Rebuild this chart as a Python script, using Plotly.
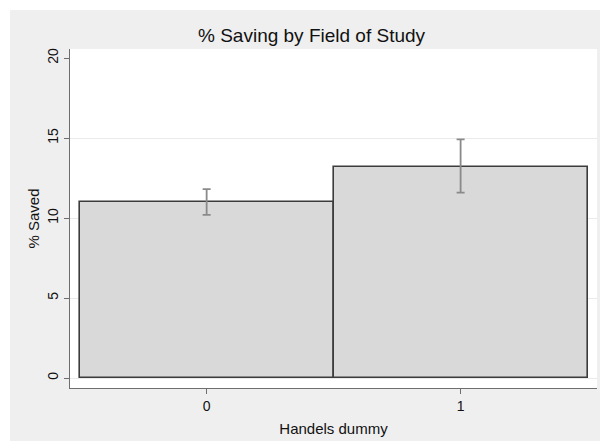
import plotly.graph_objects as go

# Mean % saved by field-of-study dummy, with confidence bounds
categories = [0, 1]
mean_saved = [10.98, 13.21]
ci_upper = [11.81, 14.92]
ci_lower = [10.19, 11.58]
y_ticks = [0, 5, 10, 15, 20]
grid_ticks = [0, 5, 10, 15]

err_plus = [u - m for u, m in zip(ci_upper, mean_saved)]
err_minus = [m - l for m, l in zip(mean_saved, ci_lower)]

W, H = 600, 441
ML, MR, MT, MB = 70, 3, 49, 53
FONT = "Liberation Sans, Arial, Helvetica, sans-serif"
AXIS_GRAY = "#6e6e6e"

fig = go.Figure()

fig.add_trace(go.Bar(
    x=categories,
    y=mean_saved,
    width=1.0,
    marker=dict(color="#d9d9d9", line=dict(color="#3c3c3c", width=1.6)),
    showlegend=False,
    hoverinfo="skip",
))

fig.add_trace(go.Scatter(
    x=categories,
    y=mean_saved,
    mode="markers",
    marker=dict(size=0.1, color="rgba(0,0,0,0)"),
    error_y=dict(
        type="data",
        symmetric=False,
        array=err_plus,
        arrayminus=err_minus,
        color="#8a8a8a",
        thickness=1.8,
        width=4,
    ),
    showlegend=False,
    hoverinfo="skip",
))

# invisible overlay axis that carries the horizontal grid lines
fig.add_trace(go.Scatter(x=[None], y=[None], yaxis="y2", showlegend=False,
                         hoverinfo="skip"))

pw = W - ML - MR
ph = H - MT - MB

fig.update_layout(
    width=W,
    height=H,
    margin=dict(l=ML, r=MR, t=MT, b=MB, pad=0),
    paper_bgcolor="#efefef",
    plot_bgcolor="#ffffff",
    font=dict(family=FONT, color="#111111", size=14),
    bargap=0,
    xaxis=dict(
        range=[-0.538, 1.537],
        tickvals=categories,
        ticktext=[str(c) for c in categories],
        ticks="outside",
        ticklen=5,
        tickcolor=AXIS_GRAY,
        tickwidth=1,
        showline=True,
        linecolor=AXIS_GRAY,
        linewidth=1.2,
        showgrid=False,
        zeroline=False,
        tickfont=dict(size=14),
        title=dict(text="Handels dummy", font=dict(size=15), standoff=10),
    ),
    yaxis=dict(
        range=[-0.625, 20.5625],
        tickvals=y_ticks,
        ticks="outside",
        ticklen=5,
        tickcolor=AXIS_GRAY,
        tickwidth=1,
        tickangle=-90,
        showline=True,
        linecolor=AXIS_GRAY,
        linewidth=1.2,
        showgrid=False,
        zeroline=False,
        tickfont=dict(size=14),
        title=dict(text="% Saved", font=dict(size=15), standoff=2),
    ),
    yaxis2=dict(
        overlaying="y",
        range=[-0.625, 20.5625],
        tickvals=grid_ticks,
        showticklabels=False,
        showgrid=True,
        gridcolor="#eaeaea",
        gridwidth=1,
        zeroline=False,
        showline=False,
        ticks="",
    ),
    annotations=[
        dict(
            text="% Saving by Field of Study",
            xref="paper", yref="paper",
            x=(312 - ML) / pw, y=(H - MB - 35) / ph,
            xanchor="center", yanchor="middle",
            showarrow=False,
            font=dict(size=19, family=FONT, color="#111111"),
        )
    ],
    shapes=[
        # white strips along the left and top edges of the figure
        dict(type="rect", xref="paper", yref="paper", layer="above",
             x0=-ML / pw, x1=-(ML - 10) / pw, y0=-MB / ph, y1=(H - MB) / ph,
             fillcolor="#ffffff", line=dict(width=0)),
        dict(type="rect", xref="paper", yref="paper", layer="above",
             x0=-ML / pw, x1=(W - ML) / pw, y0=(H - MB - 10) / ph, y1=(H - MB) / ph,
             fillcolor="#ffffff", line=dict(width=0)),
    ],
)

fig.write_html("out.html")
